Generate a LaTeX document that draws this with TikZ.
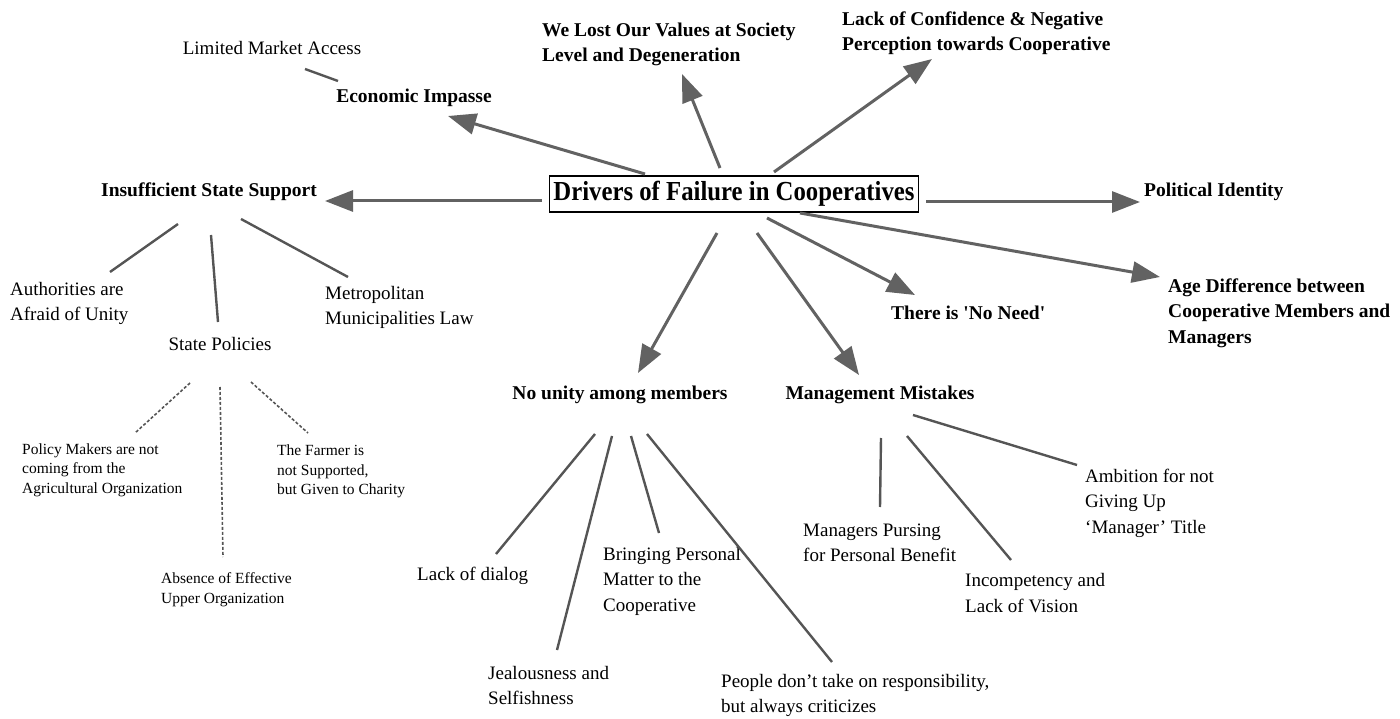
\documentclass[tikz,border=0pt]{standalone}
\usepackage{fontspec}
\setmainfont{Liberation Serif}
\newfontfamily\titlefont{Liberation Serif}[FakeStretch=0.9]
\usetikzlibrary{arrows.meta}
\definecolor{arrowgray}{HTML}{626262}
\definecolor{linkgray}{HTML}{555555}

\begin{document}
\begin{tikzpicture}[x=1pt,y=-1pt,
  lbl/.style={inner sep=0pt, align=left, font=\fontsize{19}{25.5}\selectfont},
  bold/.style={inner sep=0pt, align=left, font=\fontsize{19.5}{25.5}\selectfont\bfseries},
  small/.style={inner sep=0pt, align=left, font=\fontsize{15.5}{19.5}\selectfont},
  title/.style={draw=black, line width=1.5pt, inner xsep=4pt, minimum width=369pt,
    minimum height=36pt, font=\titlefont\fontsize{27.5}{30}\selectfont\bfseries},
  arr/.style={draw=arrowgray, line width=3pt, -{Triangle[length=28pt,width=21pt]}},
  link/.style={draw=linkgray, line width=2.4pt},
  dlink/.style={draw=linkgray, line width=1.6pt, dash pattern=on 3pt off 2pt}]

\path[use as bounding box] (0,0) rectangle (1400,719);

% central concept
\node[title] (c) at (734,194) {Drivers of Failure in Cooperatives};

% first-level drivers
\node[bold] (eco) at (414,98) {Economic Impasse};
\node[bold,anchor=west] (wlv) at (542,44.5) {We Lost Our Values at Society\\Level and Degeneration};
\node[bold,anchor=west] (lcn) at (842,33) {Lack of Confidence \& Negative\\Perception towards Cooperative};
\node[bold] (iss) at (209,192) {Insufficient State Support};
\node[bold,anchor=west] (pol) at (1144,192) {Political Identity};
\node[bold,anchor=west] (age) at (1168,313) {Age Difference between\\Cooperative Members and\\Managers};
\node[bold,anchor=west] (nn) at (891,313) {There is \textquotesingle No Need\textquotesingle};
\node[bold] (nu) at (620,395) {No unity among members};
\node[bold] (mm) at (880,395) {Management Mistakes};

% second-level items
\node[lbl] (lma) at (272,48) {Limited Market Access};
\node[lbl,anchor=west] (ath) at (10,303.5) {Authorities are\\Afraid of Unity};
\node[lbl] (sp) at (220,344) {State Policies};
\node[lbl,anchor=west] (mml) at (325,307.5) {Metropolitan\\Municipalities Law};
\node[small,anchor=west] (pmk) at (22,470) {Policy Makers are not\\coming from the\\Agricultural Organization};
\node[small,anchor=west] (frm) at (277,471.5) {The Farmer is\\not Supported,\\but Given to Charity};
\node[small,anchor=west] (abs) at (161,589.5) {Absence of Effective\\Upper Organization};
\node[lbl,anchor=west] (lod) at (417,576) {Lack of dialog};
\node[lbl,anchor=west] (jel) at (488,685.5) {Jealousness and\\Selfishness};
\node[lbl,anchor=west] (bpm) at (603,581) {Bringing Personal\\Matter to the\\Cooperative};
\node[lbl,anchor=west] (ppl) at (721,695.5) {People don’t take on responsibility,\\but always criticizes};
\node[lbl,anchor=west] (mpb) at (803,543) {Managers Pursing\\for Personal Benefit};
\node[lbl,anchor=west] (inc) at (965,593) {Incompetency and\\Lack of Vision};
\node[lbl,anchor=west] (amb) at (1085,503) {Ambition for not\\Giving Up\\‘Manager’ Title};

% arrows from the central concept
\draw[arr] ([shift={(-89,-20)}]c.center) -- ([shift={(34,18)}]eco.center);
\draw[arr] ([shift={(-14,-26)}]c.center) -- ([shift={(140,29.5)}]wlv.west);
\draw[arr] ([shift={(40,-22)}]c.center) -- ([shift={(90,26)}]lcn.west);
\draw[arr] ([shift={(-192,7)}]c.center) -- ([shift={(116,9)}]iss.center);
\draw[arr] ([shift={(192,8)}]c.center) -- ([shift={(-4,10)}]pol.west);
\draw[arr] ([shift={(66,19)}]c.center) -- ([shift={(-8,-36)}]age.west);
\draw[arr] ([shift={(33,24)}]c.center) -- ([shift={(24,-18)}]nn.west);
\draw[arr] ([shift={(-17,39)}]c.center) -- ([shift={(18,-22)}]nu.center);
\draw[arr] ([shift={(23,39)}]c.center) -- ([shift={(-21,-20)}]mm.center);

% plain links
\draw[link] ([shift={(33,21)}]lma.center) -- ([shift={(-76,-17)}]eco.center);
\draw[link] ([shift={(-31,32)}]iss.center) -- ([shift={(100,-31.5)}]ath.west);
\draw[link] ([shift={(2,43)}]iss.center) -- ([shift={(-2,-22)}]sp.center);
\draw[link] ([shift={(32,27)}]iss.center) -- ([shift={(23,-30.5)}]mml.west);

\draw[dlink] ([shift={(-30,39)}]sp.center) -- ([shift={(113,-37)}]pmk.west);
\draw[dlink] ([shift={(0,43)}]sp.center) -- ([shift={(62,-32.5)}]abs.west);
\draw[dlink] ([shift={(31,38)}]sp.center) -- ([shift={(31,-38.5)}]frm.west);

\draw[link] ([shift={(-25,39)}]nu.center) -- ([shift={(79,-22)}]lod.west);
\draw[link] ([shift={(-8,41)}]nu.center) -- ([shift={(69,-35.5)}]jel.west);
\draw[link] ([shift={(11,41)}]nu.center) -- ([shift={(56,-48)}]bpm.west);
\draw[link] ([shift={(27,39)}]nu.center) -- ([shift={(111,-33.5)}]ppl.west);

\draw[link] ([shift={(1,43)}]mm.center) -- ([shift={(77,-36)}]mpb.west);
\draw[link] ([shift={(27,41)}]mm.center) -- ([shift={(46,-33)}]inc.west);
\draw[link] ([shift={(33,20)}]mm.center) -- ([shift={(-8,-38)}]amb.west);
\end{tikzpicture}
\end{document}
